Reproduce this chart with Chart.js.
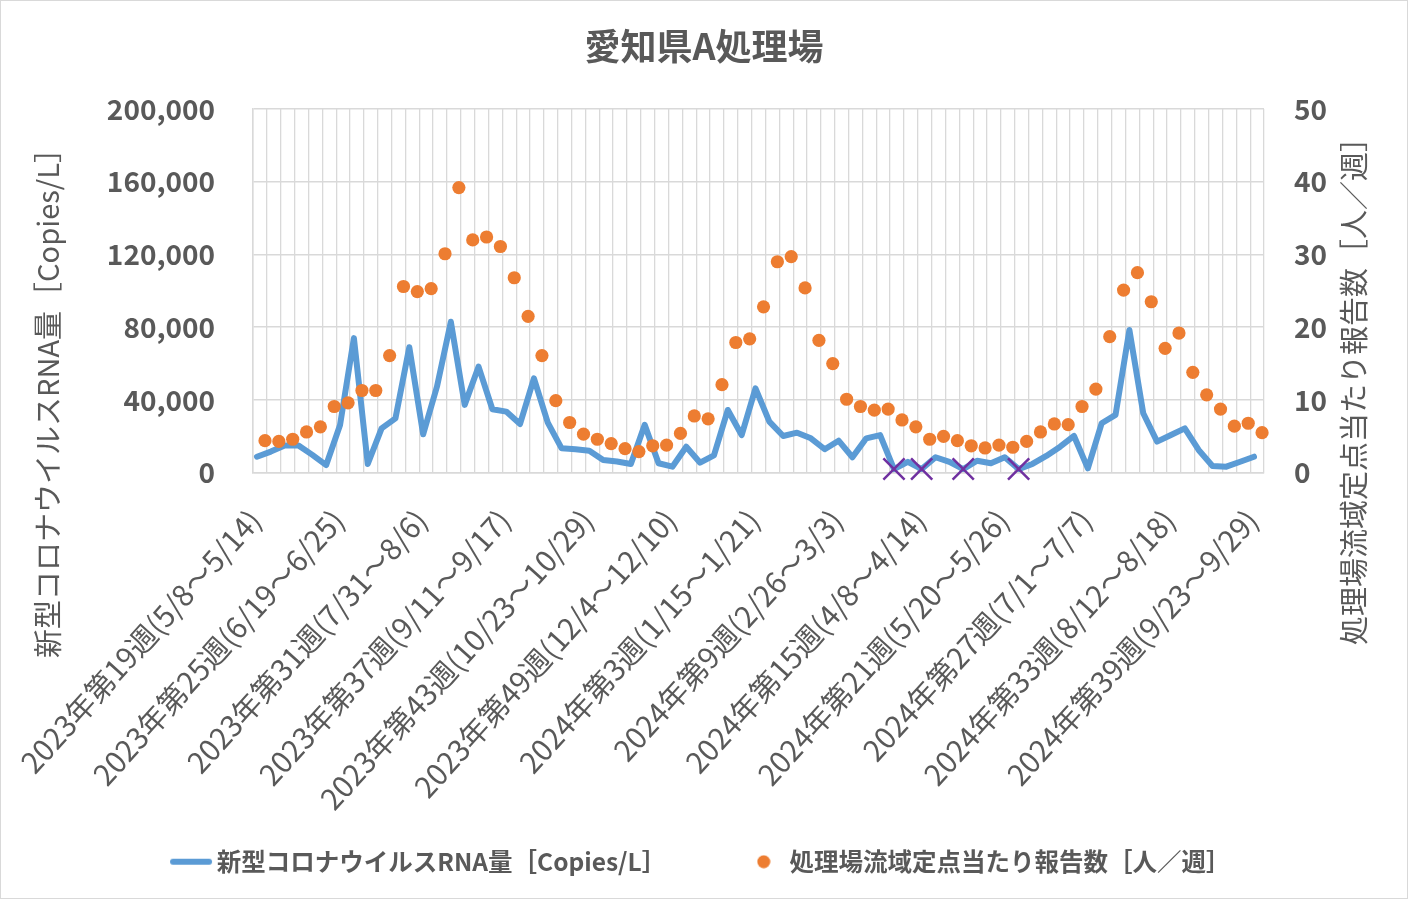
<!DOCTYPE html>
<html>
<head>
<meta charset="utf-8">
<script src="https://cdn.jsdelivr.net/npm/chart.js@4.4.1/dist/chart.umd.min.js"></script>
<style>
html,body{margin:0;padding:0;background:#ffffff;}
canvas{display:block;}
</style>
</head>
<body>
<canvas id="c" width="1408" height="899"></canvas>
<script>
// ---------------- data ----------------
const chartTitle = '愛知県A処理場';
const seriesNames = ['新型コロナウイルスRNA量［Copies/L］', '処理場流域定点当たり報告数［人／週］'];
const leftAxisTitle = '新型コロナウイルスRNA量［Copies/L］';
const rightAxisTitle = '処理場流域定点当たり報告数［人／週］';

// tick labels shown on the category axis (every 6th week)
const tickLabels = [
  '2023年第19週(5/8～5/14)', '2023年第25週(6/19～6/25)', '2023年第31週(7/31～8/6)',
  '2023年第37週(9/11～9/17)', '2023年第43週(10/23～10/29)', '2023年第49週(12/4～12/10)',
  '2024年第3週(1/15～1/21)', '2024年第9週(2/26～3/3)', '2024年第15週(4/8～4/14)',
  '2024年第21週(5/20～5/26)', '2024年第27週(7/1～7/7)', '2024年第33週(8/12～8/18)',
  '2024年第39週(9/23～9/29)'
];
const tickEvery = 6;

// weekly categories: 2023 week 19 ... 2024 week 39
const firstWeekStart = Date.UTC(2023, 4, 8);
const firstWeekNo = 19;
const weeksIn2023 = 52;
const weekCount = 73;
const categories = [];
for (let i = 0; i < weekCount; i++) {
  const s = new Date(firstWeekStart + i * 7 * 864e5);
  const e = new Date(firstWeekStart + (i * 7 + 6) * 864e5);
  let yr = 2023, wk = firstWeekNo + i;
  if (wk > weeksIn2023) { yr = 2024; wk -= weeksIn2023; }
  categories.push(yr + '年第' + wk + '週(' + (s.getUTCMonth() + 1) + '/' + s.getUTCDate() + '～' + (e.getUTCMonth() + 1) + '/' + e.getUTCDate() + ')');
}

// RNA copies / L (left axis)
const rnaCopies = [
  8800, 11600, 14900, 15000, 9800, 4200, 26200, 74000, 4800, 24400,
  29900, 69000, 21100, 47400, 83000, 37300, 58300, 34900, 33600, 26800,
  51900, 27500, 13400, 12900, 12100, 7000, 6200, 4800, 26300, 5200,
  3300, 14300, 5500, 9500, 34500, 20700, 46400, 28100, 20200, 22000,
  18900, 12900, 17600, 8500, 18900, 20700, 2000, 6000, 2000, 8500,
  6000, 2000, 6600, 5200, 8500, 2000, 4800, 9200, 14300, 20200,
  2400, 27200, 31800, 78500, 32700, 17100, 20700, 24400, 12500, 3700,
  3300, 6000, 8800
];

// reports per sentinel site (right axis)
const reportsPerSite = [
  4.4, 4.3, 4.6, 5.6, 6.3, 9.1, 9.6, 11.3, 11.3, 16.1,
  25.6, 24.9, 25.3, 30.1, 39.2, 32.0, 32.4, 31.1, 26.8, 21.5,
  16.1, 9.9, 6.9, 5.3, 4.6, 4.0, 3.3, 2.9, 3.7, 3.8,
  5.4, 7.8, 7.4, 12.1, 17.9, 18.4, 22.8, 29.0, 29.7, 25.4,
  18.2, 15.0, 10.1, 9.1, 8.6, 8.75, 7.25, 6.3, 4.6, 5.0,
  4.4, 3.7, 3.4, 3.8, 3.5, 4.3, 5.6, 6.7, 6.6, 9.1,
  11.5, 18.7, 25.1, 27.5, 23.5, 17.1, 19.2, 13.8, 10.7, 8.75,
  6.4, 6.8, 5.5
];

// weeks marked with a cross (below detection limit)
const notDetectedWeeks = [46, 48, 51, 55];

// left / right axis ranges
const leftAxis = { min: 0, max: 200000, step: 40000 };
const rightAxis = { min: 0, max: 50, step: 10 };

// ---------------- styles ----------------
const FONT = "'Noto Sans CJK JP', 'Noto Sans', sans-serif";
const TEXT = '#595959';
const GRID = '#d9d9d9';
const BLUE = '#5B9BD5';
const ORANGE = '#ED7D31';
const PURPLE = '#7030A0';
const lineShift = -0.22;   // position of line vertices inside a category
const dotShift = 0.36;     // position of dots inside a category

Chart.defaults.font.family = FONT;
Chart.defaults.color = TEXT;

function lineIcon() {
  const c = document.createElement('canvas');
  c.width = 44; c.height = 8;
  const g = c.getContext('2d');
  g.strokeStyle = BLUE; g.lineWidth = 6; g.lineCap = 'round';
  g.beginPath(); g.moveTo(4, 4); g.lineTo(40, 4); g.stroke();
  return c;
}
function dotIcon() {
  const c = document.createElement('canvas');
  c.width = 14; c.height = 14;
  const g = c.getContext('2d');
  g.fillStyle = ORANGE;
  g.beginPath(); g.arc(7, 7, 6.5, 0, Math.PI * 2); g.fill();
  return c;
}
const legendIcons = [lineIcon(), dotIcon()];

const frameAndTitles = {
  id: 'frameAndTitles',
  beforeDraw(chart) {
    // let the long rotated category labels run past the axis box
    const sx = chart.scales.x;
    if (sx) sx._computeLabelArea = function () { return undefined; };
  },
  afterDraw(chart) {
    const ctx = chart.ctx;
    ctx.save();
    ctx.strokeStyle = GRID; ctx.lineWidth = 1;
    ctx.strokeRect(0.5, 0.5, chart.width - 1, chart.height - 1);
    ctx.fillStyle = TEXT;
    ctx.font = '29px ' + FONT;
    ctx.textAlign = 'center';
    ctx.textBaseline = 'middle';
    [[leftAxisTitle, 48, 396], [rightAxisTitle, 1354, 384]].forEach(([t, x, y]) => {
      ctx.save(); ctx.translate(x, y); ctx.rotate(-Math.PI / 2); ctx.fillText(t, 0, 0); ctx.restore();
    });
    ctx.restore();
  }
};

const PLOT_BOTTOM = 472.7;
const PAD_BOTTOM = 15;

new Chart(document.getElementById('c'), {
  type: 'line',
  data: {
    labels: categories,
    datasets: [
      {
        label: seriesNames[0],
        data: rnaCopies.map((v, i) => ({ x: i + lineShift, y: v })),
        xAxisID: 'xo', yAxisID: 'y',
        borderColor: BLUE, backgroundColor: BLUE,
        borderWidth: 6, pointRadius: 0, pointHoverRadius: 0,
        borderJoinStyle: 'round', borderCapStyle: 'round',
        tension: 0, order: 2, clip: false
      },
      {
        label: seriesNames[1],
        data: reportsPerSite.map((v, i) => ({ x: i + dotShift, y: v })),
        xAxisID: 'xo', yAxisID: 'y2',
        showLine: false,
        pointRadius: 6.6, pointBackgroundColor: ORANGE, pointBorderWidth: 0,
        borderColor: ORANGE, backgroundColor: ORANGE,
        order: 1, clip: false
      },
      {
        label: '不検出',
        data: notDetectedWeeks.map(i => ({ x: i + lineShift, y: rnaCopies[i] })),
        xAxisID: 'xo', yAxisID: 'y',
        showLine: false,
        pointStyle: 'crossRot', pointRadius: 15,
        pointBorderColor: PURPLE, pointBorderWidth: 2.5,
        borderColor: PURPLE, backgroundColor: PURPLE,
        order: 0, clip: false
      }
    ]
  },
  options: {
    responsive: false,
    animation: false,
    devicePixelRatio: 1,
    layout: { padding: { left: 0, right: 0, top: 0, bottom: PAD_BOTTOM } },
    plugins: {
      title: {
        display: true, text: chartTitle, color: TEXT,
        font: { size: 36, weight: 'bold', family: FONT, lineHeight: 1.2 },
        padding: { top: 24.4, bottom: 41.4 }
      },
      legend: {
        position: 'bottom',
        labels: {
          usePointStyle: true, pointStyleWidth: 27, padding: 84,
          color: TEXT, font: { size: 24.5, weight: 'bold', family: FONT },
          generateLabels(chart) {
            const items = Chart.defaults.plugins.legend.labels.generateLabels(chart);
            return items.filter(it => it.datasetIndex < 2)
              .sort((a, b) => a.datasetIndex - b.datasetIndex)
              .map(it => Object.assign({}, it, { pointStyle: legendIcons[it.datasetIndex], fontColor: TEXT }));
          }
        }
      },
      tooltip: { enabled: false }
    },
    scales: {
      x: {
        type: 'category', position: 'bottom', offset: true,
        grid: { offset: true, color: GRID, lineWidth: 1.3, drawTicks: false },
        border: { display: true, color: GRID, width: 1.5 },
        ticks: {
          autoSkip: false, minRotation: 48, maxRotation: 48, padding: 30, labelOffset: -5,
          color: TEXT, font: { size: 29.5, family: FONT },
          callback: (v, i) => (i % tickEvery === 0 ? tickLabels[i / tickEvery] : '')
        },
        afterFit(s) { s.height = s.chart.height - PAD_BOTTOM - s.chart.legend.height - PLOT_BOTTOM; }
      },
      xo: {
        type: 'linear', display: false, min: -0.5, max: weekCount - 0.5
      },
      y: {
        position: 'left', min: leftAxis.min, max: leftAxis.max,
        ticks: {
          stepSize: leftAxis.step, padding: 38, color: TEXT,
          font: { size: 28, weight: 'bold', family: FONT },
          callback: v => v.toLocaleString('en-US')
        },
        grid: { color: GRID, lineWidth: 1.5, drawTicks: false },
        border: { display: true, color: GRID, width: 1.5 },
        afterFit(s) { s.width = 251.7; }
      },
      y2: {
        position: 'right', min: rightAxis.min, max: rightAxis.max,
        ticks: {
          stepSize: rightAxis.step, padding: 30, color: TEXT,
          font: { size: 28, weight: 'bold', family: FONT }
        },
        grid: { display: false, drawTicks: false },
        border: { display: false },
        afterFit(s) { s.width = 144; }
      }
    }
  },
  plugins: [frameAndTitles]
});
</script>
</body>
</html>
